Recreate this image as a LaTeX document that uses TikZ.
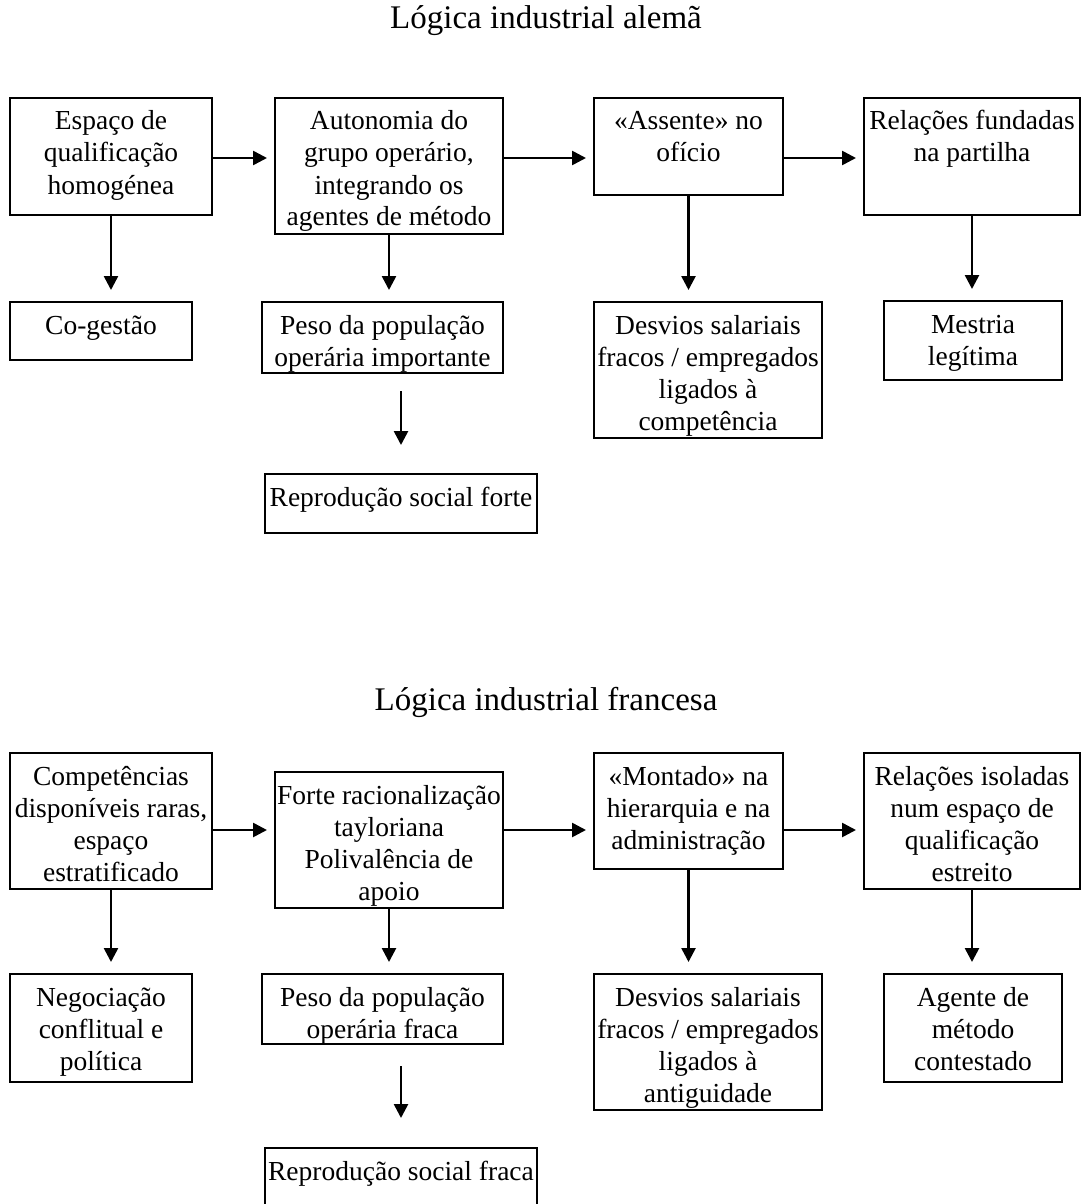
\documentclass[tikz,border=0pt]{standalone}
\usepackage{fontspec}
\setmainfont{Liberation Serif}
\usetikzlibrary{arrows.meta}

\newcommand\bodyfont{\fontsize{27.5pt}{32pt}\selectfont}
\newcommand\headfont{\fontsize{33pt}{38pt}\selectfont}
% stacked, centred lines whose baseline is the first line
\newcommand\ml[1]{\begin{tabular}[t]{@{}c@{}}#1\end{tabular}}

\tikzset{
  bx/.style={draw, line width=2.7pt, inner sep=0pt, outer sep=0pt,
    anchor=north west, text height=32pt, font=\bodyfont},
  arr/.style={line width=2.6pt, -{Triangle[length=14pt,width=14pt]}},
  ttl/.style={font=\headfont, inner sep=0pt, anchor=base},
}

\begin{document}
\begin{tikzpicture}[x=1pt, y=-1pt]
\useasboundingbox (0,0) rectangle (1081,1204);

% ---------------- German industrial logic ----------------
\node[ttl] (t1) at (546,29) {Lógica industrial alemã};
\coordinate (r1) at (0,158);

\node[bx, minimum width=202pt, minimum height=117pt, text depth=85pt]  (a1) at (10,98)  {\ml{Espaço de\\qualificação\\homogénea}};
\node[bx, minimum width=228pt, minimum height=136pt, text depth=104pt] (a2) at (275,98) {\ml{Autonomia do\\grupo operário,\\integrando os\\agentes de método}};
\node[bx, minimum width=189pt, minimum height=97pt,  text depth=65pt]  (a3) at (594,98) {\ml{«Assente» no\\ofício}};
\node[bx, minimum width=216pt, minimum height=117pt, text depth=85pt]  (a4) at (864,98) {\ml{Relações fundadas\\na partilha}};

\node[bx, minimum width=182pt, minimum height=58pt,  text depth=26pt]  (b1) at (10,302)  {Co-gestão};
\node[bx, minimum width=241pt, minimum height=71pt,  text depth=39pt]  (b2) at (262,302) {\ml{Peso da população\\operária importante}};
\node[bx, minimum width=228pt, minimum height=136pt, text depth=104pt] (b3) at (594,302) {\ml{Desvios salariais\\fracos / empregados\\ligados à\\competência}};
\node[bx, minimum width=178pt, minimum height=79pt,  text depth=47pt]  (b4) at (884,301) {\ml{Mestria\\legítima}};

\node[bx, minimum width=272pt, minimum height=59pt,  text depth=27pt]  (c2) at (265,474) {Reprodução social forte};

\draw[arr, shorten >=8pt] (a1.east |- r1) -- (a2.west |- r1);
\draw[arr, shorten >=8pt] (a2.east |- r1) -- (a3.west |- r1);
\draw[arr, shorten >=8pt] (a3.east |- r1) -- (a4.west |- r1);

\draw[arr, shorten >=12pt] (a1.south) -- (a1.south |- b1.north);
\draw[arr, shorten >=12pt] (a2.south) -- (a2.south |- b2.north);
\draw[arr, shorten >=12pt] (a3.south) -- (a3.south |- b3.north);
\draw[arr, shorten >=12pt] (a4.south) -- (a4.south |- b4.north);
\draw[arr, shorten <=18pt, shorten >=29pt] (c2.north |- b2.south) -- (c2.north);

% ---------------- French industrial logic ----------------
\node[ttl] (t2) at (546,710) {Lógica industrial francesa};
\coordinate (r2) at (0,830);

\node[bx, minimum width=202pt, minimum height=136pt, text depth=104pt] (d1) at (10,753)  {\ml{Competências\\disponíveis raras,\\espaço\\estratificado}};
\node[bx, minimum width=228pt, minimum height=136pt, text depth=104pt] (d2) at (275,772) {\ml{Forte racionalização\\tayloriana\\Polivalência de\\apoio}};
\node[bx, minimum width=189pt, minimum height=116pt, text depth=84pt]  (d3) at (594,753) {\ml{«Montado» na\\hierarquia e na\\administração}};
\node[bx, minimum width=216pt, minimum height=136pt, text depth=104pt] (d4) at (864,753) {\ml{Relações isoladas\\num espaço de\\qualificação\\estreito}};

\node[bx, minimum width=182pt, minimum height=108pt, text depth=76pt]  (e1) at (10,974)  {\ml{Negociação\\conflitual e\\política}};
\node[bx, minimum width=241pt, minimum height=70pt,  text depth=38pt]  (e2) at (262,974) {\ml{Peso da população\\operária fraca}};
\node[bx, minimum width=228pt, minimum height=136pt, text depth=104pt] (e3) at (594,974) {\ml{Desvios salariais\\fracos / empregados\\ligados à\\antiguidade}};
\node[bx, minimum width=178pt, minimum height=108pt, text depth=76pt]  (e4) at (884,974) {\ml{Agente de\\método\\contestado}};

\node[bx, minimum width=272pt, minimum height=70pt,  text depth=38pt]  (f2) at (265,1148) {Reprodução social fraca};

\draw[arr, shorten >=8pt] (d1.east |- r2) -- (d2.west |- r2);
\draw[arr, shorten >=8pt] (d2.east |- r2) -- (d3.west |- r2);
\draw[arr, shorten >=8pt] (d3.east |- r2) -- (d4.west |- r2);

\draw[arr, shorten >=12pt] (d1.south) -- (d1.south |- e1.north);
\draw[arr, shorten >=12pt] (d2.south) -- (d2.south |- e2.north);
\draw[arr, shorten >=12pt] (d3.south) -- (d3.south |- e3.north);
\draw[arr, shorten >=12pt] (d4.south) -- (d4.south |- e4.north);
\draw[arr, shorten <=22pt, shorten >=30pt] (f2.north |- e2.south) -- (f2.north);
\end{tikzpicture}
\end{document}
